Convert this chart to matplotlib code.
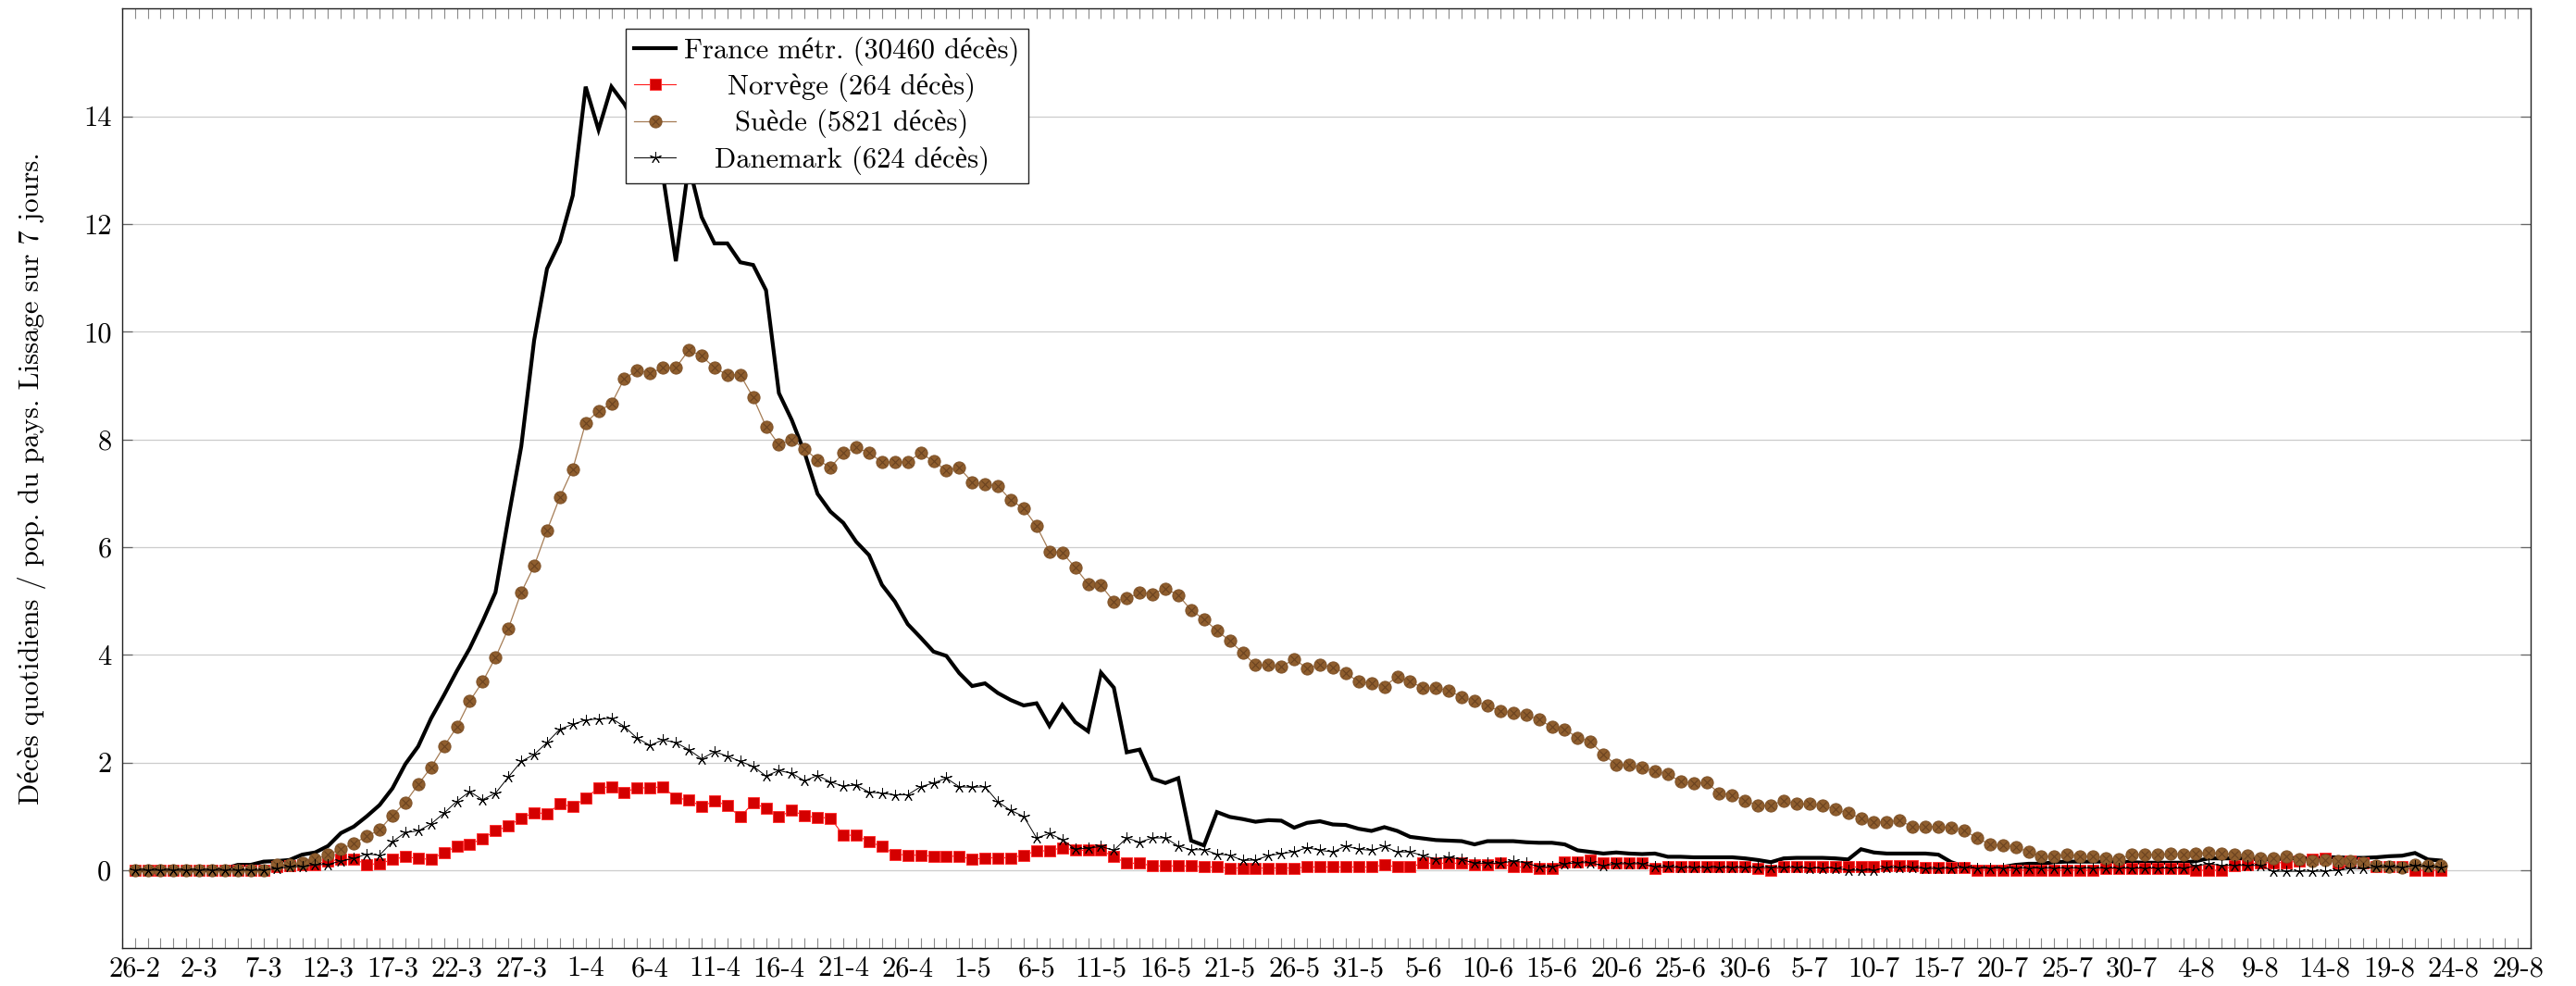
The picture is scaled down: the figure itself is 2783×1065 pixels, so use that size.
import numpy as np
import matplotlib
matplotlib.use("Agg")
import matplotlib.pyplot as plt
from matplotlib.offsetbox import TextArea
from matplotlib.transforms import Bbox
from matplotlib.ticker import MultipleLocator

# ---------------- data ----------------
tick_labels = ["26-2", "2-3", "7-3", "12-3", "17-3", "22-3", "27-3",
               "1-4", "6-4", "11-4", "16-4", "21-4", "26-4",
               "1-5", "6-5", "11-5", "16-5", "21-5", "26-5", "31-5",
               "5-6", "10-6", "15-6", "20-6", "25-6", "30-6",
               "5-7", "10-7", "15-7", "20-7", "25-7", "30-7",
               "4-8", "9-8", "14-8", "19-8", "24-8", "29-8"]

france = [
    0, 0, 0, 0, 0, 0, 0, 0.03, 0.1, 0.1,
    0.16, 0.17, 0.19, 0.29, 0.33, 0.45, 0.69, 0.81, 1.0, 1.21,
    1.52, 1.97, 2.3, 2.82, 3.25, 3.7, 4.12, 4.62, 5.16, 6.54,
    7.87, 9.84, 11.17, 11.67, 12.53, 14.55, 13.75, 14.55, 14.23, 13.8,
    13.2, 12.9, 11.31, 13.1, 12.13, 11.64, 11.64, 11.29, 11.24, 10.77,
    8.86, 8.36, 7.75, 6.99, 6.66, 6.45, 6.1, 5.85, 5.3, 4.99,
    4.57, 4.32, 4.06, 3.98, 3.66, 3.42, 3.47, 3.29, 3.16, 3.06,
    3.1, 2.68, 3.07, 2.75, 2.58, 3.67, 3.39, 2.19, 2.24, 1.7,
    1.62, 1.71, 0.55, 0.46, 1.08, 0.99, 0.95, 0.9, 0.93, 0.92,
    0.79, 0.88, 0.91, 0.85, 0.84, 0.77, 0.73, 0.8, 0.73, 0.62,
    0.59, 0.56, 0.55, 0.54, 0.48, 0.54, 0.54, 0.54, 0.52, 0.51,
    0.51, 0.48, 0.37, 0.34, 0.31, 0.33, 0.31, 0.3, 0.31, 0.25,
    0.25, 0.24, 0.24, 0.24, 0.24, 0.22, 0.19, 0.15, 0.22, 0.23,
    0.23, 0.23, 0.22, 0.2, 0.39, 0.33, 0.31, 0.31, 0.31, 0.31,
    0.29, 0.15, 0.07, 0.06, 0.06, 0.06, 0.1, 0.12, 0.12, 0.15,
    0.16, 0.16, 0.16, 0.16, 0.16, 0.15, 0.14, 0.14, 0.14, 0.14,
    0.17, 0.22, 0.22, 0.22, 0.22, 0.2, 0.2, 0.22, 0.22, 0.22,
    0.24, 0.24, 0.23, 0.23, 0.24, 0.26, 0.27, 0.32, 0.2, 0.18,
]

norvege = [
    0, 0, 0, 0, 0, 0, 0, 0, 0, 0,
    0, 0.06, 0.09, 0.1, 0.11, 0.17, 0.2, 0.21, 0.11, 0.12,
    0.2, 0.25, 0.22, 0.2, 0.33, 0.44, 0.48, 0.59, 0.73, 0.82,
    0.97, 1.07, 1.05, 1.23, 1.18, 1.34, 1.53, 1.55, 1.45, 1.53,
    1.53, 1.55, 1.34, 1.31, 1.18, 1.29, 1.2, 0.99, 1.25, 1.15,
    0.99, 1.11, 1.01, 0.98, 0.97, 0.65, 0.65, 0.53, 0.44, 0.3,
    0.28, 0.28, 0.26, 0.26, 0.26, 0.2, 0.23, 0.23, 0.23, 0.28,
    0.36, 0.36, 0.42, 0.37, 0.37, 0.37, 0.25, 0.13, 0.13, 0.08,
    0.08, 0.08, 0.08, 0.06, 0.06, 0.04, 0.04, 0.04, 0.04, 0.04,
    0.04, 0.06, 0.06, 0.06, 0.06, 0.06, 0.06, 0.1, 0.06, 0.06,
    0.13, 0.13, 0.13, 0.13, 0.1, 0.1, 0.13, 0.06, 0.06, 0.04,
    0.04, 0.16, 0.16, 0.18, 0.13, 0.13, 0.13, 0.13, 0.03, 0.06,
    0.06, 0.06, 0.06, 0.06, 0.06, 0.06, 0.04, 0.0, 0.06, 0.06,
    0.06, 0.06, 0.06, 0.06, 0.06, 0.06, 0.09, 0.09, 0.09, 0.05,
    0.05, 0.05, 0.05, 0, 0, 0, 0, 0, 0, 0,
    0, 0, 0, 0.03, 0.03, 0.03, 0.03, 0.03, 0.03, 0.03,
    0, 0, 0, 0.09, 0.11, 0.14, 0.14, 0.14, 0.17, 0.2,
    0.23, 0.14, 0.17, 0.14, 0.06, 0.06, 0.06, 0, 0, 0,
]

suede = [
    0, 0, 0, 0, 0, 0, 0, 0, 0, 0,
    0, 0.1, 0.11, 0.13, 0.2, 0.29, 0.39, 0.5, 0.63, 0.75,
    1.02, 1.26, 1.59, 1.91, 2.3, 2.66, 3.14, 3.5, 3.95, 4.49,
    5.16, 5.65, 6.31, 6.93, 7.45, 8.31, 8.53, 8.66, 9.13, 9.28,
    9.23, 9.33, 9.33, 9.66, 9.55, 9.33, 9.2, 9.2, 8.78, 8.24,
    7.9, 8.0, 7.82, 7.62, 7.48, 7.75, 7.85, 7.75, 7.58, 7.58,
    7.58, 7.75, 7.59, 7.43, 7.47, 7.21, 7.16, 7.14, 6.87, 6.72,
    6.39, 5.92, 5.9, 5.62, 5.32, 5.29, 4.99, 5.05, 5.15, 5.13,
    5.23, 5.11, 4.83, 4.66, 4.45, 4.26, 4.04, 3.81, 3.81, 3.78,
    3.92, 3.75, 3.81, 3.77, 3.66, 3.5, 3.47, 3.41, 3.6, 3.5,
    3.39, 3.39, 3.33, 3.22, 3.14, 3.06, 2.95, 2.93, 2.88, 2.8,
    2.66, 2.62, 2.46, 2.39, 2.15, 1.96, 1.96, 1.9, 1.84, 1.78,
    1.65, 1.61, 1.63, 1.43, 1.4, 1.29, 1.2, 1.21, 1.29, 1.23,
    1.23, 1.2, 1.13, 1.06, 0.97, 0.89, 0.9, 0.92, 0.81, 0.81,
    0.81, 0.79, 0.74, 0.6, 0.48, 0.46, 0.43, 0.34, 0.26, 0.26,
    0.29, 0.26, 0.26, 0.23, 0.2, 0.3, 0.3, 0.29, 0.31, 0.3,
    0.31, 0.33, 0.31, 0.3, 0.27, 0.23, 0.23, 0.25, 0.2, 0.17,
    0.18, 0.17, 0.17, 0.14, 0.08, 0.06, 0.05, 0.1, 0.08, 0.08,
]

danemark = [
    0, 0, 0, 0, 0, 0, 0, 0, 0, 0,
    0, 0.03, 0.06, 0.07, 0.1, 0.11, 0.17, 0.22, 0.3, 0.28,
    0.53, 0.7, 0.73, 0.86, 1.06, 1.28, 1.46, 1.31, 1.43, 1.73,
    2.02, 2.15, 2.37, 2.62, 2.71, 2.79, 2.81, 2.82, 2.67, 2.45,
    2.32, 2.42, 2.37, 2.24, 2.07, 2.2, 2.12, 2.02, 1.93, 1.75,
    1.85, 1.8, 1.66, 1.76, 1.64, 1.56, 1.58, 1.45, 1.43, 1.4,
    1.4, 1.55, 1.62, 1.71, 1.55, 1.54, 1.55, 1.27, 1.11, 1.0,
    0.6, 0.68, 0.57, 0.39, 0.41, 0.44, 0.37, 0.6, 0.52, 0.6,
    0.6, 0.45, 0.38, 0.38, 0.3, 0.28, 0.18, 0.19, 0.27, 0.31,
    0.34, 0.42, 0.37, 0.34, 0.45, 0.39, 0.37, 0.44, 0.34, 0.34,
    0.27, 0.21, 0.24, 0.2, 0.13, 0.13, 0.13, 0.17, 0.14, 0.06,
    0.06, 0.12, 0.14, 0.14, 0.08, 0.12, 0.12, 0.12, 0.06, 0.06,
    0.05, 0.05, 0.05, 0.05, 0.05, 0.05, 0.05, 0.05, 0.05, 0.05,
    0.04, 0.04, 0.04, 0.0, 0.0, 0.0, 0.05, 0.05, 0.05, 0.03,
    0.03, 0.04, 0.05, 0.04, 0.04, 0.04, 0.04, 0.04, 0.04, 0.04,
    0.04, 0.04, 0.04, 0.04, 0.04, 0.04, 0.04, 0.04, 0.04, 0.04,
    0.08, 0.12, 0.09, 0.09, 0.09, 0.09, -0.02, -0.02, -0.02, -0.02,
    -0.02, 0.0, 0.03, 0.03, 0.06, 0.06, 0.05, 0.09, 0.06, 0.05,
]

labels = ["France métr. (30460 décès)", "Norvège (264 décès)",
          "Suède (5821 décès)", "Danemark (624 décès)"]
ylabel = "Décès quotidiens / pop. du pays. Lissage sur 7 jours."

# ---------------- style ----------------
plt.rcParams["font.family"] = ["cmr10", "Liberation Serif", "DejaVu Serif"]
plt.rcParams["axes.unicode_minus"] = False
plt.rcParams["mathtext.fontset"] = "cm"
FS = 22

fig = plt.figure(figsize=(27.83, 10.65), dpi=100)
ax = fig.add_axes([0.04732, 0.03822, 0.93518, 0.95305])

days = np.arange(len(france))
tick_days = np.arange(0, 5 * len(tick_labels), 5)

l_fr, = ax.plot(days, france, color="black", lw=3.0, zorder=3,
                solid_joinstyle="miter")
l_no, = ax.plot(days, norvege, color="#ff1a1a", lw=0.8, marker="s", ms=9,
                mfc="#d40000", mec="#ff3030", mew=0.7, zorder=4)
l_se, = ax.plot(days, suede, color="#a57c55", lw=0.9, marker="o", ms=9.5,
                mfc="#8f5e2e", mec="#7d5027", mew=0.7, zorder=5)
l_sx, = ax.plot(days, suede, ls="none", marker="x", ms=6.0,
                mec="#6a4220", mew=0.8, zorder=5.1)
l_dk, = ax.plot(days, danemark, color="black", lw=0.7, marker=(5, 2, 0),
                ms=9, mec="black", mew=0.7, zorder=6)

ax.set_xlim(-1, 186)
ax.set_ylim(-1.45, 16.0)
ax.set_xticks(tick_days)
ax.set_xticklabels(tick_labels)
ax.xaxis.set_minor_locator(MultipleLocator(1))
ax.set_yticks(np.arange(0, 15, 2))

ax.tick_params(axis="x", which="both", direction="in", length=8, width=0.8,
               color="#8a8a8a", top=True, bottom=True, pad=6, labelsize=FS)
ax.tick_params(axis="y", which="major", direction="in", length=8, width=0.9,
               color="#666666", left=True, right=True, pad=8, labelsize=FS)
ax.grid(axis="y", which="major", color="#cccccc", lw=0.9)
ax.set_axisbelow(True)
for sp in ax.spines.values():
    sp.set_linewidth(1.0)
    sp.set_color("#222222")

ax.set_ylabel(ylabel, fontsize=FS)
ax.yaxis.set_label_coords(-0.0314, 0.5)

leg = ax.legend([l_fr, l_no, (l_se, l_sx), l_dk], labels,
                loc="upper left", bbox_to_anchor=(0.2091, 0.979),
                borderaxespad=0, fontsize=FS, handlelength=1.47,
                handletextpad=0.3, borderpad=0.3, labelspacing=0.25,
                fancybox=False, framealpha=1, edgecolor="#222222",
                numpoints=1)
leg.get_frame().set_linewidth(1.0)

# centre the legend texts inside their column (as in the original)
try:
    for t in leg.get_texts():
        t.set_ha("center")
    areas = [a for a in leg.findobj(TextArea) if a.get_text() in labels]

    def _make(area, group):
        def get_bbox(renderer):
            W = max(TextArea.get_bbox(a, renderer).width for a in group)
            bb = TextArea.get_bbox(area, renderer)
            return Bbox.from_bounds(-W / 2, bb.y0, W, bb.height)
        return get_bbox

    for a in areas:
        a.get_bbox = _make(a, areas)
except Exception:
    for t in leg.get_texts():
        t.set_ha("left")

fig.savefig("out.png", dpi=100)
